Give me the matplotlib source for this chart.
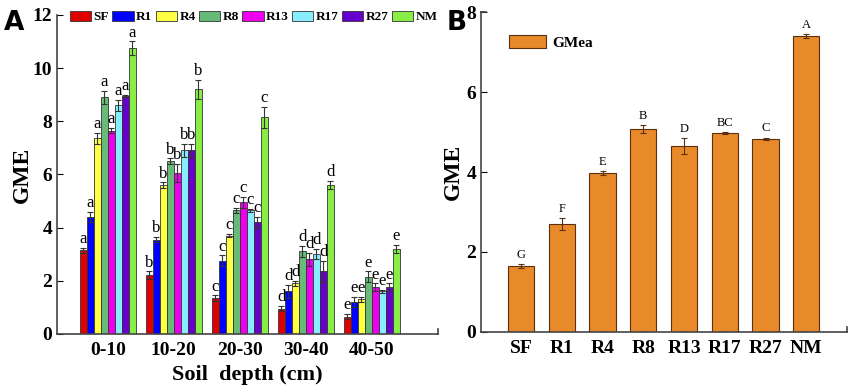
from matplotlib import pyplot as plt
import numpy as np

plt.rcParams['font.family'] = ['Liberation Serif', 'DejaVu Serif']

# panel A data
depths = ['0-10', '10-20', '20-30', '30-40', '40-50']
treatments = ['SF', 'R1', 'R4', 'R8', 'R13', 'R17', 'R27', 'NM']
gme_sf = [3.15, 2.2, 1.35, 0.95, 0.65]
gme_r1 = [4.4, 3.55, 2.75, 1.6, 1.2]
gme_r4 = [7.35, 5.6, 3.7, 1.9, 1.3]
gme_r8 = [8.9, 6.5, 4.65, 3.1, 2.15]
gme_r13 = [7.65, 6.05, 4.95, 2.8, 1.75]
gme_r17 = [8.6, 6.9, 4.65, 3.0, 1.6]
gme_r27 = [8.95, 6.9, 4.2, 2.35, 1.75]
gme_nm = [10.75, 9.2, 8.15, 5.6, 3.2]
err_sf = [0.1, 0.15, 0.1, 0.1, 0.1]
err_r1 = [0.2, 0.1, 0.2, 0.25, 0.2]
err_r4 = [0.2, 0.1, 0.05, 0.1, 0.1]
err_r8 = [0.25, 0.1, 0.1, 0.2, 0.2]
err_r13 = [0.1, 0.35, 0.2, 0.25, 0.15]
err_r17 = [0.2, 0.25, 0.05, 0.2, 0.05]
err_r27 = [0.05, 0.25, 0.2, 0.4, 0.15]
err_nm = [0.25, 0.35, 0.4, 0.15, 0.15]
depth_letters = ['a', 'b', 'c', 'd', 'e']

# panel B data
gmea = [1.65, 2.7, 3.98, 5.08, 4.65, 4.97, 4.83, 7.4]
gmea_err = [0.05, 0.15, 0.05, 0.1, 0.2, 0.03, 0.03, 0.05]
gmea_letters = ['G', 'F', 'E', 'B', 'D', 'BC', 'C', 'A']

colors = ['#e00000', '#0000ff', '#ffff44', '#66bb77', '#ee00ee', '#88eeff', '#6600cc', '#88ee44']
series = [gme_sf, gme_r1, gme_r4, gme_r8, gme_r13, gme_r17, gme_r27, gme_nm]
errors = [err_sf, err_r1, err_r4, err_r8, err_r13, err_r17, err_r27, err_nm]

fig = plt.figure(figsize=(8.5, 3.91), dpi=100)
axA = fig.add_axes([0.067, 0.146, 0.448, 0.816])
axB = fig.add_axes([0.566, 0.151, 0.4305, 0.818])

# ---- panel A
x = np.arange(len(depths))
w = 0.106
for i in range(len(treatments)):
    pos = x + (i - 3.5) * w
    axA.bar(pos, series[i], w, color=colors[i], edgecolor='#333333', linewidth=0.6,
            label=treatments[i], zorder=2)
    axA.errorbar(pos, series[i], yerr=errors[i], fmt='none', ecolor='#333333',
                 elinewidth=0.8, capsize=2, capthick=0.8, zorder=3)
    for j in range(len(depths)):
        axA.text(pos[j], series[i][j] + errors[i][j] + 0.03, depth_letters[j],
                 ha='center', va='bottom', fontsize=12)

axA.set_xlim(-0.77, 5.0)
axA.set_ylim(0, 12)
axA.set_yticks(range(0, 13, 2))
axA.set_xticks(x)
axA.set_xticklabels(depths)
axA.tick_params(axis='x', length=0, labelsize=14, pad=6)
axA.tick_params(axis='y', direction='in', length=4, labelsize=14)
for lab in axA.get_xticklabels() + axA.get_yticklabels():
    lab.set_fontweight('bold')
axA.spines['top'].set_visible(False)
axA.spines['right'].set_visible(False)
for s in ['left', 'bottom']:
    axA.spines[s].set_color('#444444')
    axA.spines[s].set_linewidth(1.2)
axA.plot([5.0, 5.0], [0, 0.2], color='#444444', lw=1.2, clip_on=False)
axA.set_xlabel('Soil  depth (cm)', fontsize=16, fontweight='bold', labelpad=4)
axA.set_ylabel('GME', fontsize=17, fontweight='bold', labelpad=0)
axA.legend(ncol=8, loc='upper left', bbox_to_anchor=(0.02, 1.03), frameon=False,
           handlelength=1.6, handleheight=0.8, handletextpad=0.2, columnspacing=0.25,
           prop={'weight': 'bold', 'size': 9.5}, borderaxespad=0)

# ---- panel B
xb = np.arange(len(treatments))
axB.bar(xb, gmea, 0.64, color='#e8892a', edgecolor='#5a3010', linewidth=0.8,
        label='GMea', zorder=2)
axB.errorbar(xb, gmea, yerr=gmea_err, fmt='none', ecolor='#5a3010',
             elinewidth=0.8, capsize=2, capthick=0.8, zorder=3)
for i in range(len(treatments)):
    axB.text(xb[i], gmea[i] + gmea_err[i] + 0.08, gmea_letters[i],
             ha='center', va='bottom', fontsize=9)
axB.set_xlim(-0.98, 8.0)
axB.set_ylim(0, 8)
axB.set_yticks(range(0, 9, 2))
axB.set_xticks(xb)
axB.set_xticklabels(treatments)
axB.tick_params(axis='x', direction='in', length=3, labelsize=14, pad=6)
axB.tick_params(axis='y', direction='in', length=4, labelsize=14)
for lab in axB.get_xticklabels() + axB.get_yticklabels():
    lab.set_fontweight('bold')
axB.spines['top'].set_visible(False)
axB.spines['right'].set_visible(False)
for s in ['left', 'bottom']:
    axB.spines[s].set_color('#444444')
    axB.spines[s].set_linewidth(1.2)
axB.plot([8.0, 8.0], [0, 0.12], color='#444444', lw=1.2, clip_on=False)
axB.plot([-0.98, -0.85], [8, 8], color='#444444', lw=1.2, clip_on=False)
axB.set_ylabel('GME', fontsize=17, fontweight='bold', labelpad=2)
axB.legend(loc='upper left', bbox_to_anchor=(0.04, 0.97), frameon=False,
           handlelength=2.4, handleheight=0.9, handletextpad=0.4,
           prop={'weight': 'bold', 'size': 11})

fig.text(0.004, 0.975, 'A', fontsize=19, fontweight='bold', family='DejaVu Sans', va='top')
fig.text(0.525, 0.975, 'B', fontsize=19, fontweight='bold', family='DejaVu Sans', va='top')

fig.savefig('out.png', dpi=100)
